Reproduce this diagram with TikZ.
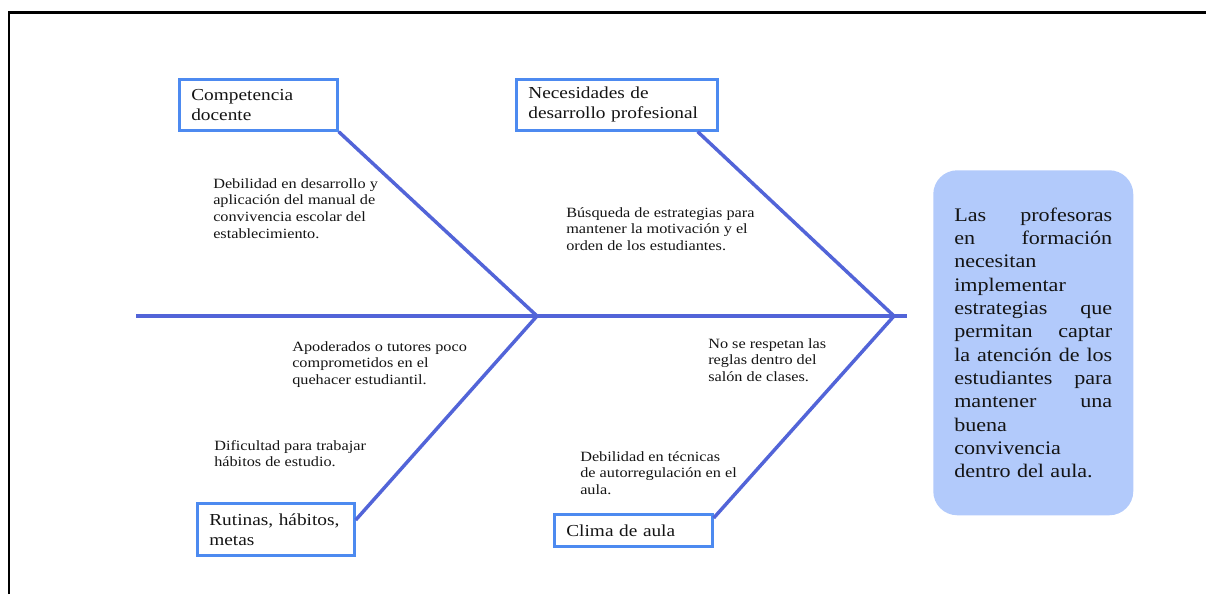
\documentclass[tikz,border=0pt]{standalone}
\usepackage{fontspec}
\setmainfont[FakeStretch=1.15]{Liberation Serif}
\usetikzlibrary{positioning,calc}
\definecolor{espina}{HTML}{5264D8}
\definecolor{borde}{HTML}{4D8AF0}
\definecolor{fondoefecto}{HTML}{B2CAFB}
\definecolor{texto}{HTML}{141414}
\newlength{\efw}\setlength{\efw}{118.5pt}
\newcommand{\jl}[1]{\makebox[\efw][l]{#1}}

\begin{document}
\begin{tikzpicture}[x=0.75pt,y=-0.75pt,text=texto,
  catbox/.style={draw=borde,line width=2pt,anchor=north west,align=left,
    inner xsep=9pt,inner ysep=0pt,font=\fontsize{12.6}{15}\selectfont},
  causa/.style={anchor=north west,align=left,inner sep=0pt,
    font=\fontsize{10.6}{12.5}\selectfont},
  hueso/.style={draw=espina,line width=2.6pt,line join=round}]
  \useasboundingbox (0,0) rectangle (1206,594);
  % page frame
  \draw[line width=2.2pt] (9,594) -- (9,12.5) -- (1206,12.5);
  % category boxes
  \node[catbox,text width=100.5pt,minimum height=38.25pt] (comp) at (178,78) {Competencia\\docente};
  \node[catbox,text width=132.75pt,minimum height=38.25pt] (nec) at (515,78) {Necesidades de\\desarrollo profesional};
  \node[catbox,text width=99.75pt,minimum height=39pt] (rut) at (196,502) {\mbox{Rutinas, hábitos,}\\metas};
  \node[catbox,text width=100.5pt,minimum height=24pt] (clima) at (553,513) {Clima de aula};
  % effect
  \node[fill=fondoefecto,rounded corners=18pt,anchor=north west,minimum width=150pt,
    minimum height=258.75pt,text width=\efw,inner xsep=15.75pt,align=left,
    font=\fontsize{14.4}{17.5}\selectfont] (efecto) at (933,170)
    {\jl{Las\hfill profesoras}\\ \jl{en\hfill formación}\\ necesitan\\ implementar\\
     \jl{estrategias\hfill que}\\ \jl{permitan\hfill captar}\\ \jl{la\hfill atención\hfill de\hfill los}\\
     \jl{estudiantes\hfill para}\\ \jl{mantener\hfill una}\\ buena\\ convivencia\\ dentro del aula.};
  % causes
  \node[causa] (c1) at (213,178) {Debilidad en desarrollo y\\aplicación del manual de\\convivencia escolar del\\establecimiento.};
  \node[causa] (c2) at (566,207) {Búsqueda de estrategias para\\mantener la motivación y el\\orden de los estudiantes.};
  \node[causa] (c3) at (292,341) {Apoderados o tutores poco\\comprometidos en el\\quehacer estudiantil.};
  \node[causa] (c4) at (214,440) {Dificultad para trabajar\\hábitos de estudio.};
  \node[causa] (c5) at (708,338) {No se respetan las\\reglas dentro del\\salón de clases.};
  \node[causa] (c6) at (580,451) {Debilidad en técnicas\\de autorregulación en el\\aula.};
  % spine and bones
  \coordinate (cola) at (136,316);
  \coordinate (cabeza) at (907,316);
  \coordinate (j1) at (537,316);
  \coordinate (j2) at (894,316);
  \draw[hueso] (cola) -- (cabeza);
  \draw[hueso] (comp.south east) -- (j1) -- ($(rut.north east)+(0,18)$);
  \draw[hueso] ($(nec.south east)+(-21,0)$) -- (j2) -- ($(clima.north east)+(0,5)$);
\end{tikzpicture}
\end{document}
